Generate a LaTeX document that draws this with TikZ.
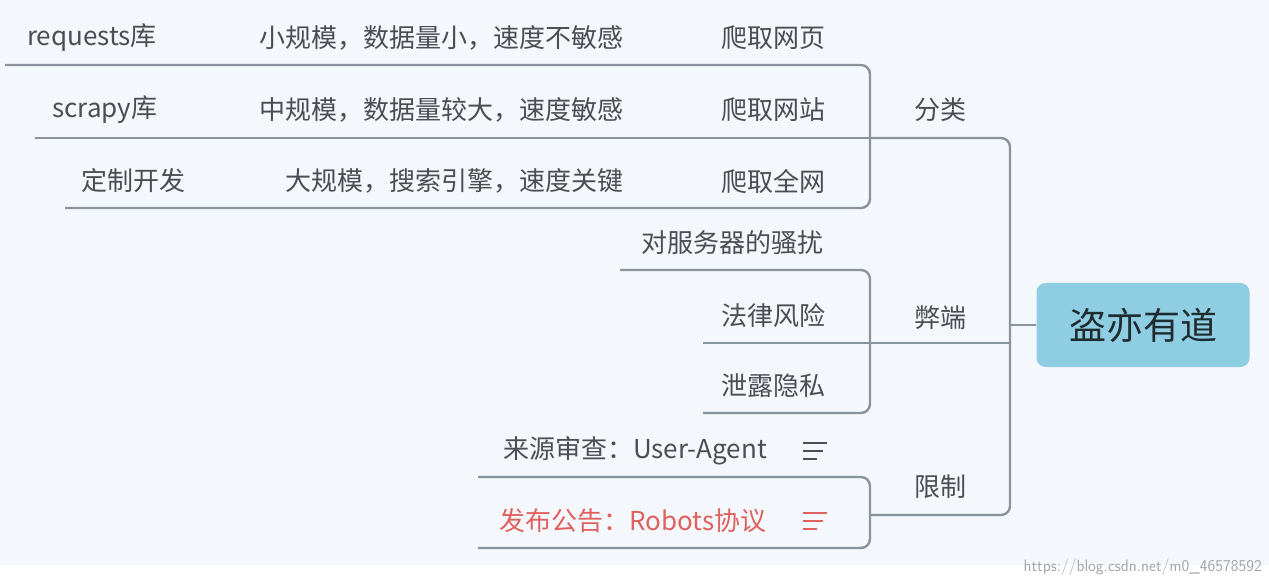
\documentclass[tikz,border=0pt]{standalone}
\usepackage{fontspec}
\setmainfont{Noto Sans CJK SC}
\begin{document}
\begin{tikzpicture}[x=1pt,y=-1pt,
  br/.style={draw=linec,line width=2.4pt,rounded corners=9pt},
  lbl/.style={text=txtc,font=\fontsize{26}{28}\selectfont,inner sep=0pt},
  red/.style={lbl,text=redc}]
\definecolor{bgc}{HTML}{F4F8FC}
\definecolor{linec}{HTML}{8A939C}
\definecolor{txtc}{HTML}{4A4E52}
\definecolor{redc}{HTML}{E0605E}
\definecolor{rootc}{HTML}{8FCDE2}
\fill[bgc] (0,0) rectangle (1269,585);
\fill[white] (0,565) rectangle (1269,585);
\useasboundingbox (0,0) rectangle (1269,585);
% root
\node[fill=rootc,rounded corners=9pt,minimum width=213pt,minimum height=84pt,inner sep=0pt,
  text=black!30!rootc!30!black,font=\fontsize{37}{40}\selectfont] (root) at (1143,325) {盗亦有道};
% trunk
\coordinate (tr) at (1010,325);
\draw[br] (root.west) -- (tr);
\draw[br] (870,138) -- (1010,138) -- (1010,515) -- (870,515);
\draw[br] (870,343) -- (1010,343);
% 分类
\draw[br] (5,65) -- (870,65) -- (870,208) -- (65,208);
\draw[br] (35,138) -- (870,138);
\node[lbl] (fl) at (940,110) {分类};
\node[lbl] (a1) at (92,38) {requests库};
\node[lbl] (a2) at (441,38) {小规模，数据量小，速度不敏感};
\node[lbl] (a3) at (773,38) {爬取网页};
\node[lbl] (b1) at (105,110) {scrapy库};
\node[lbl] (b2) at (441,110) {中规模，数据量较大，速度敏感};
\node[lbl] (b3) at (773,110) {爬取网站};
\node[lbl] (c1) at (133,181) {定制开发};
\node[lbl] (c2) at (454,181) {大规模，搜索引擎，速度关键};
\node[lbl] (c3) at (773,181) {爬取全网};
% 弊端
\draw[br] (620,270) -- (870,270) -- (870,413) -- (703,413);
\draw[br] (703,343) -- (870,343);
\node[lbl] (bd) at (940,318) {弊端};
\node[lbl] (d1) at (732,243) {对服务器的骚扰};
\node[lbl] (d2) at (773,316) {法律风险};
\node[lbl] (d3) at (773,386) {泄露隐私};
% 限制
\draw[br] (478,477) -- (870,477) -- (870,548) -- (478,548);
\node[lbl] (xz) at (940,487) {限制};
\node[lbl] (e1) at (635,451) {来源审查：User-Agent};
\node[red] (e2) at (633,521) {发布公告：Robots协议};
\begin{scope}[line width=2pt]
\draw[txtc] (803,443)--(827,443) (803,451)--(823,451) (803,459)--(817,459);
\draw[redc] (803,513)--(827,513) (803,521)--(823,521) (803,529)--(817,529);
\end{scope}
\node[text=black!35,font=\fontsize{16.5}{18}\selectfont\sffamily,inner sep=0pt,anchor=east] (wm) at (1262,567) {https://blog.csdn.net/m0\_46578592};
\end{tikzpicture}
\end{document}
